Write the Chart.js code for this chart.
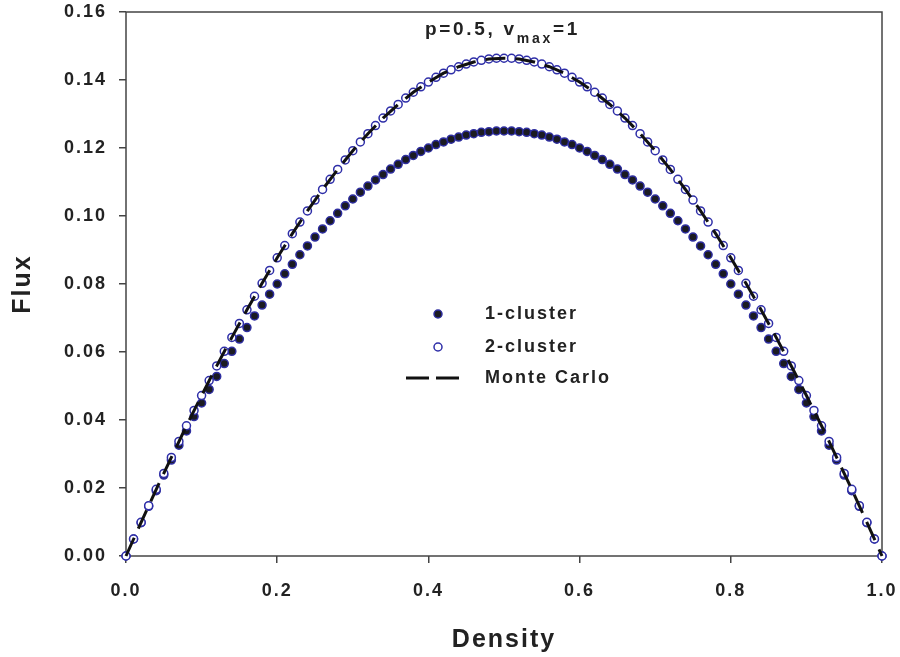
<!DOCTYPE html>
<html>
<head>
<meta charset="utf-8">
<script src="https://cdn.jsdelivr.net/npm/chart.js@4.4.0/dist/chart.umd.min.js"></script>
<style>
  html, body { margin: 0; padding: 0; background: #fff; }
  canvas { display: block; }
</style>
</head>
<body>
<canvas id="fluxChart" width="900" height="657"></canvas>
<script>
// density axis (0.01 steps) for the cluster approximations
const density = [
  0.00, 0.01, 0.02, 0.03, 0.04, 0.05, 0.06, 0.07, 0.08, 0.09,
  0.10, 0.11, 0.12, 0.13, 0.14, 0.15, 0.16, 0.17, 0.18, 0.19,
  0.20, 0.21, 0.22, 0.23, 0.24, 0.25, 0.26, 0.27, 0.28, 0.29,
  0.30, 0.31, 0.32, 0.33, 0.34, 0.35, 0.36, 0.37, 0.38, 0.39,
  0.40, 0.41, 0.42, 0.43, 0.44, 0.45, 0.46, 0.47, 0.48, 0.49,
  0.50, 0.51, 0.52, 0.53, 0.54, 0.55, 0.56, 0.57, 0.58, 0.59,
  0.60, 0.61, 0.62, 0.63, 0.64, 0.65, 0.66, 0.67, 0.68, 0.69,
  0.70, 0.71, 0.72, 0.73, 0.74, 0.75, 0.76, 0.77, 0.78, 0.79,
  0.80, 0.81, 0.82, 0.83, 0.84, 0.85, 0.86, 0.87, 0.88, 0.89,
  0.90, 0.91, 0.92, 0.93, 0.94, 0.95, 0.96, 0.97, 0.98, 0.99,
  1.00
];

const oneCluster = [
  0,      0.0050, 0.0098, 0.0146, 0.0192, 0.0238, 0.0282, 0.0326, 0.0368, 0.0410,
  0.0450, 0.0490, 0.0528, 0.0566, 0.0602, 0.0638, 0.0672, 0.0706, 0.0738, 0.0770,
  0.0800, 0.0830, 0.0858, 0.0886, 0.0912, 0.0938, 0.0962, 0.0986, 0.1008, 0.1030,
  0.1050, 0.1070, 0.1088, 0.1106, 0.1122, 0.1138, 0.1152, 0.1166, 0.1178, 0.1190,
  0.1200, 0.1210, 0.1218, 0.1226, 0.1232, 0.1238, 0.1242, 0.1246, 0.1248, 0.1250,
  0.1250, 0.1250, 0.1248, 0.1246, 0.1242, 0.1238, 0.1232, 0.1226, 0.1218, 0.1210,
  0.1200, 0.1190, 0.1178, 0.1166, 0.1152, 0.1138, 0.1122, 0.1106, 0.1088, 0.1070,
  0.1050, 0.1030, 0.1008, 0.0986, 0.0962, 0.0938, 0.0912, 0.0886, 0.0858, 0.0830,
  0.0800, 0.0770, 0.0738, 0.0706, 0.0672, 0.0638, 0.0602, 0.0566, 0.0528, 0.0490,
  0.0450, 0.0410, 0.0368, 0.0326, 0.0282, 0.0238, 0.0192, 0.0146, 0.0098, 0.0050,
  0
];

const twoCluster = [
  0,      0.0050, 0.0099, 0.0148, 0.0196, 0.0243, 0.0290, 0.0337, 0.0383, 0.0428,
  0.0472, 0.0516, 0.0559, 0.0602, 0.0643, 0.0684, 0.0724, 0.0764, 0.0802, 0.0840,
  0.0877, 0.0913, 0.0948, 0.0982, 0.1015, 0.1047, 0.1078, 0.1108, 0.1137, 0.1165,
  0.1192, 0.1218, 0.1242, 0.1266, 0.1288, 0.1309, 0.1328, 0.1347, 0.1364, 0.1380,
  0.1394, 0.1408, 0.1420, 0.1430, 0.1439, 0.1447, 0.1453, 0.1458, 0.1462, 0.1464,
  0.1464, 0.1464, 0.1462, 0.1458, 0.1453, 0.1447, 0.1439, 0.1430, 0.1420, 0.1408,
  0.1394, 0.1380, 0.1364, 0.1347, 0.1328, 0.1309, 0.1288, 0.1266, 0.1242, 0.1218,
  0.1192, 0.1165, 0.1137, 0.1108, 0.1078, 0.1047, 0.1015, 0.0982, 0.0948, 0.0913,
  0.0877, 0.0840, 0.0802, 0.0764, 0.0724, 0.0684, 0.0643, 0.0602, 0.0559, 0.0516,
  0.0472, 0.0428, 0.0383, 0.0337, 0.0290, 0.0243, 0.0196, 0.0148, 0.0099, 0.0050,
  0
];

// Monte Carlo runs (0.02 steps)
const mcDensity = [
  0.00, 0.02, 0.04, 0.06, 0.08, 0.10, 0.12, 0.14, 0.16, 0.18,
  0.20, 0.22, 0.24, 0.26, 0.28, 0.30, 0.32, 0.34, 0.36, 0.38,
  0.40, 0.42, 0.44, 0.46, 0.48, 0.50, 0.52, 0.54, 0.56, 0.58,
  0.60, 0.62, 0.64, 0.66, 0.68, 0.70, 0.72, 0.74, 0.76, 0.78,
  0.80, 0.82, 0.84, 0.86, 0.88, 0.90, 0.92, 0.94, 0.96, 0.98,
  1.00
];
const monteCarlo = [
  0,      0.0099, 0.0196, 0.0290, 0.0383, 0.0472, 0.0559, 0.0643, 0.0724, 0.0802,
  0.0877, 0.0948, 0.1015, 0.1078, 0.1137, 0.1192, 0.1242, 0.1288, 0.1328, 0.1364,
  0.1394, 0.1420, 0.1439, 0.1453, 0.1462, 0.1464, 0.1462, 0.1453, 0.1439, 0.1420,
  0.1394, 0.1364, 0.1328, 0.1288, 0.1242, 0.1192, 0.1137, 0.1078, 0.1015, 0.0948,
  0.0877, 0.0802, 0.0724, 0.0643, 0.0559, 0.0472, 0.0383, 0.0290, 0.0196, 0.0099,
  0
];

const seriesNames = ['1-cluster', '2-cluster', 'Monte Carlo'];

const toPoints = (xs, ys) => xs.map((x, i) => ({ x: x, y: ys[i] }));

const FONT = '"Liberation Sans", Arial, sans-serif';
const TEXT = '#222';
const AXIS = '#444';

Chart.defaults.font.family = FONT;
Chart.defaults.color = TEXT;

// SigmaPlot-ish wide lettering
const spacing = {
  id: 'spacing',
  beforeUpdate(chart) { chart.ctx.letterSpacing = '2px'; },
  beforeDraw(chart) { chart.ctx.letterSpacing = '2px'; }
};

// closed box round the plot
const frame = {
  id: 'frame',
  beforeDatasetsDraw(chart) {
    const { ctx, chartArea: a } = chart;
    ctx.save();
    ctx.strokeStyle = AXIS;
    ctx.lineWidth = 1.5;
    ctx.strokeRect(a.left, a.top, a.right - a.left, a.bottom - a.top);
    ctx.restore();
  }
};

// in-plot legend and the parameter label
const notes = {
  id: 'notes',
  afterDatasetsDraw(chart) {
    const { ctx, chartArea: a } = chart;
    const ds = chart.data.datasets;
    ctx.save();
    ctx.letterSpacing = '2px';
    ctx.fillStyle = TEXT;
    ctx.textBaseline = 'middle';
    ctx.font = 'bold 18px ' + FONT;

    const mx = a.left + 312, tx = a.left + 359;
    const rows = [a.top + 302, a.top + 335, a.top + 366];
    [0, 1].forEach(i => {
      ctx.beginPath();
      ctx.arc(mx, rows[i], 4, 0, Math.PI * 2);
      ctx.fillStyle = ds[i].pointBackgroundColor;
      ctx.fill();
      ctx.lineWidth = 1.5;
      ctx.strokeStyle = ds[i].pointBorderColor;
      ctx.stroke();
    });
    ctx.beginPath();
    ctx.setLineDash([23, 7]);
    ctx.lineWidth = 3;
    ctx.strokeStyle = ds[2].borderColor;
    ctx.moveTo(a.left + 280, rows[2]);
    ctx.lineTo(a.left + 334, rows[2]);
    ctx.stroke();
    ctx.setLineDash([]);

    ctx.fillStyle = TEXT;
    ctx.textAlign = 'left';
    seriesNames.forEach((name, i) => ctx.fillText(name, tx, rows[i]));

    // p=0.5, v_max=1
    ctx.textBaseline = 'alphabetic';
    ctx.letterSpacing = '2.7px';
    let x = a.left + 299;
    const base = a.top + 23;
    ctx.font = 'bold 19px ' + FONT;
    ctx.fillText('p=0.5, v', x, base);
    x += ctx.measureText('p=0.5, v').width;
    ctx.font = 'bold 14px ' + FONT;
    ctx.fillText('max', x, base + 8);
    x += ctx.measureText('max').width;
    ctx.font = 'bold 19px ' + FONT;
    ctx.fillText('=1', x, base);
    ctx.restore();
  }
};

new Chart(document.getElementById('fluxChart'), {
  type: 'scatter',
  data: {
    datasets: [{
      label: seriesNames[0],
      data: toPoints(density, oneCluster),
      pointRadius: 4,
      pointBorderWidth: 1.5,
      pointBackgroundColor: '#1b1b22',
      pointBorderColor: '#2e2ea0',
      showLine: false,
      order: 2,
      clip: false
    }, {
      label: seriesNames[1],
      data: toPoints(density, twoCluster),
      pointRadius: 4,
      pointBorderWidth: 1.5,
      pointBackgroundColor: '#ffffff',
      pointBorderColor: '#2e2ea8',
      showLine: false,
      order: 1,
      clip: false
    }, {
      label: seriesNames[2],
      data: toPoints(mcDensity, monteCarlo),
      showLine: true,
      pointRadius: 0,
      borderColor: '#111',
      borderWidth: 3,
      borderDash: [20, 10],
      tension: 0,
      order: 0,
      clip: false
    }]
  },
  options: {
    responsive: false,
    animation: false,
    layout: { padding: { left: 0, top: 12, right: 18, bottom: 0 } },
    plugins: {
      legend: { display: false },
      tooltip: { enabled: false }
    },
    scales: {
      x: {
        type: 'linear',
        min: 0,
        max: 1,
        afterFit: s => { s.height = 101; s.paddingLeft = 0; s.paddingRight = 0; },
        border: { display: false },
        grid: { drawOnChartArea: false, drawTicks: true, tickLength: 7, color: AXIS, lineWidth: 1.5 },
        ticks: {
          stepSize: 0.2,
          padding: 17,
          maxRotation: 0,
          color: TEXT,
          font: { size: 18, weight: 'bold' },
          callback: v => v.toFixed(1)
        },
        title: {
          display: true,
          text: 'Density',
          color: TEXT,
          font: { size: 25, weight: 'bold' },
          padding: { top: 0, bottom: 2 }
        }
      },
      y: {
        type: 'linear',
        min: 0,
        max: 0.16,
        afterFit: s => { s.width = 126; s.paddingTop = 0; s.paddingBottom = 0; },
        border: { display: false },
        grid: { drawOnChartArea: false, drawTicks: true, tickLength: 7, color: AXIS, lineWidth: 1.5 },
        ticks: {
          stepSize: 0.02,
          padding: 12,
          color: TEXT,
          font: { size: 18, weight: 'bold' },
          callback: v => v.toFixed(2)
        },
        title: {
          display: true,
          text: 'Flux',
          color: TEXT,
          font: { size: 25, weight: 'bold' },
          padding: { top: 8, bottom: 0 }
        }
      }
    }
  },
  plugins: [spacing, frame, notes]
});
</script>
</body>
</html>
